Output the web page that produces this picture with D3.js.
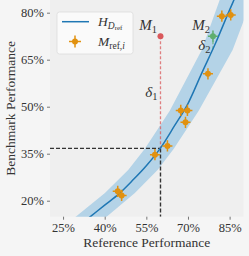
<!DOCTYPE html>
<html>
<head>
<meta charset="utf-8">
<script src="https://cdn.jsdelivr.net/npm/d3@7"></script>
<style>
  body { margin: 0; background: #f5f5f5; }
  text { font-family: "Liberation Serif", "DejaVu Serif", serif; fill: #333; }
</style>
</head>
<body>
<div id="chart"></div>
<script>
// ticks
const xTicks = [25, 40, 55, 70, 85];
const yTicks = [20, 35, 50, 65, 80];

// fitted curve H_Dref
const curveX = [26.7, 34.95, 40, 45, 50, 55, 60, 65, 70, 75, 80, 85, 86.55, 88.5];
const curveY = [9.2, 15.0, 18.6, 22.1, 26.45, 31.15, 36.7, 43.7, 51.0, 60.8, 70.4, 80.9, 84.05, 88.0];

// band edges (left/upper edge and right/lower edge)
const bandLeftX = [21.4, 29.67, 40.09, 48.54, 54.46, 63.44, 74.95, 81.41, 83.5];
const bandLeftY = [9.2, 14.99, 22.45, 29.87, 36.56, 48.67, 68.11, 84.05, 89];
const bandRightX = [32.9, 40.81, 50.87, 59.14, 64.89, 73.87, 86.08, 92.9];
const bandRightY = [9.2, 14.99, 22.45, 29.87, 36.56, 48.67, 68.11, 84.05];

// reference models M_ref,i
const refX = [44.7, 46.1, 58.1, 62.6, 67.4, 69.8, 69.1, 77.2, 82.2, 85.4];
const refY = [23.0, 21.7, 34.7, 37.5, 48.8, 48.8, 45.0, 60.5, 78.9, 79.3];
const refXErr = [1.8, 1.8, 1.8, 1.8, 1.8, 1.8, 1.8, 1.8, 1.8, 1.8];
const refYErr = [1.8, 1.8, 1.8, 1.8, 1.8, 1.8, 1.8, 1.8, 1.8, 1.8];

// the two models
const m1 = { x: 60.1, y: 72.5, h: 36.7, err: 0.8 };
const m2 = { x: 79.0, y: 72.5, h: 68.3, err: 1.8 };

const W = 249, H = 256;
const margin = { left: 50, right: 5.5, top: 0, bottom: 39.3 };
const serif = "'Liberation Serif', 'DejaVu Serif', serif";

const orange = "#e1910f";
const blue = "#1f77b4";
const red = "#d9585b";
const green = "#5fae6e";

const svg = d3.select("#chart")
  .append("svg")
  .attr("width", W)
  .attr("height", H);

svg.append("rect").attr("width", W).attr("height", H).attr("fill", "#f5f5f5");

const xScale = d3.scaleLinear().domain([20.3, 90]).range([margin.left, W - margin.right]);
const yScale = d3.scaleLinear().domain([14.9, 84.05]).range([H - margin.bottom, margin.top]);

const x0 = xScale.range()[0], x1 = xScale.range()[1];
const y0 = yScale.range()[1], y1 = yScale.range()[0];

svg.append("rect")
  .attr("x", x0).attr("y", y0)
  .attr("width", x1 - x0).attr("height", y1 - y0)
  .attr("fill", "#efefef");

svg.append("clipPath").attr("id", "clip")
  .append("rect")
  .attr("x", x0).attr("y", y0)
  .attr("width", x1 - x0).attr("height", y1 - y0);

const plot = svg.append("g").attr("clip-path", "url(#clip)");

// band
const bandPts = bandLeftX.map((d, i) => [d, bandLeftY[i]])
  .concat(bandRightX.map((d, i) => [d, bandRightY[i]]).reverse());
plot.append("path")
  .attr("d", d3.line().x(d => xScale(d[0])).y(d => yScale(d[1])).curve(d3.curveLinearClosed)(bandPts))
  .attr("fill", "#b4d3e7")
  .attr("stroke", "none");

// dashed guide lines
plot.append("line")
  .attr("x1", x0).attr("x2", xScale(m1.x))
  .attr("y1", yScale(m1.h)).attr("y2", yScale(m1.h))
  .attr("stroke", "#333").attr("stroke-width", 1.4).attr("stroke-dasharray", "4,2");
plot.append("line")
  .attr("x1", xScale(m1.x)).attr("x2", xScale(m1.x))
  .attr("y1", yScale(m1.h)).attr("y2", y1)
  .attr("stroke", "#333").attr("stroke-width", 1.4).attr("stroke-dasharray", "4,2");
plot.append("line")
  .attr("x1", xScale(m1.x)).attr("x2", xScale(m1.x))
  .attr("y1", yScale(m1.y)).attr("y2", yScale(m1.h))
  .attr("stroke", red).attr("stroke-opacity", 0.75).attr("stroke-width", 1.3).attr("stroke-dasharray", "3,2");
plot.append("line")
  .attr("x1", xScale(m2.x)).attr("x2", xScale(m2.x))
  .attr("y1", yScale(m2.y)).attr("y2", yScale(m2.h))
  .attr("stroke", green).attr("stroke-opacity", 0.75).attr("stroke-width", 1.3).attr("stroke-dasharray", "3,2");

// curve
const hLine = d3.line()
  .x(d => xScale(d[0]))
  .y(d => yScale(d[1]))
  .curve(d3.curveMonotoneX);
plot.append("path")
  .attr("d", hLine(curveX.map((d, i) => [d, curveY[i]])))
  .attr("fill", "none")
  .attr("stroke", blue)
  .attr("stroke-width", 1.5);

// points with error bars
function drawPoint(g, x, y, ex, ey, color, r) {
  g.append("line")
    .attr("x1", xScale(x - ex)).attr("x2", xScale(x + ex))
    .attr("y1", yScale(y)).attr("y2", yScale(y))
    .attr("stroke", color).attr("stroke-width", 1.5);
  g.append("line")
    .attr("x1", xScale(x)).attr("x2", xScale(x))
    .attr("y1", yScale(y - ey)).attr("y2", yScale(y + ey))
    .attr("stroke", color).attr("stroke-width", 1.5);
  g.append("circle")
    .attr("cx", xScale(x)).attr("cy", yScale(y))
    .attr("r", r).attr("fill", color);
}

refX.forEach((d, i) => drawPoint(plot, d, refY[i], refXErr[i], refYErr[i], orange, 3));
drawPoint(plot, m1.x, m1.y, m1.err, m1.err, red, 3);
drawPoint(plot, m2.x, m2.y, m2.err, m2.err, green, 3);

// annotations
function subLabel(x, y, main, sub, size) {
  const t = svg.append("text")
    .attr("x", x).attr("y", y)
    .attr("text-anchor", "end")
    .style("font-family", serif)
    .style("font-size", size + "px");
  t.append("tspan").style("font-style", "italic").text(main);
  t.append("tspan")
    .attr("dy", size * 0.22)
    .style("font-size", (size * 0.7) + "px")
    .text(sub);
  return t;
}
subLabel(157, 30, "M", "1", 15);
subLabel(210, 29.5, "M", "2", 15);
subLabel(157.5, 96.5, "δ", "1", 15);
subLabel(210.5, 50, "δ", "2", 15);

// axes
const xAxis = d3.axisBottom(xScale).tickValues(xTicks).tickSize(3).tickPadding(3).tickFormat(d => d + "%");
const yAxis = d3.axisLeft(yScale).tickValues(yTicks).tickSize(3).tickPadding(3).tickFormat(d => d + "%");

const gx = svg.append("g")
  .attr("class", "x-axis")
  .attr("transform", "translate(0," + y1 + ")")
  .call(xAxis);
const gy = svg.append("g")
  .attr("class", "y-axis")
  .attr("transform", "translate(" + x0 + ",0)")
  .call(yAxis);

[gx, gy].forEach(g => {
  g.attr("font-family", null).attr("font-size", null);
  g.select(".domain").remove();
  g.selectAll(".tick line").attr("stroke", "#555").attr("stroke-width", 0.8);
  g.selectAll(".tick text")
    .attr("fill", "#333")
    .style("font-family", serif)
    .style("font-size", "12.5px");
});

svg.append("text")
  .attr("x", (x0 + x1) / 2)
  .attr("y", 247)
  .attr("text-anchor", "middle")
  .style("font-family", serif)
  .style("font-size", "13.5px")
  .text("Reference Performance");

svg.append("text")
  .attr("transform", "translate(14.5," + ((y0 + y1) / 2) + ") rotate(-90)")
  .attr("text-anchor", "middle")
  .style("font-family", serif)
  .style("font-size", "13.5px")
  .text("Benchmark Performance");

// legend
const legend = svg.append("g");
legend.append("rect")
  .attr("x", 57).attr("y", 12)
  .attr("width", 76).attr("height", 42)
  .attr("rx", 2.5)
  .attr("fill", "#fafafa")
  .attr("stroke", "#dcdcdc")
  .attr("stroke-width", 0.8);
legend.append("line")
  .attr("x1", 62).attr("x2", 89)
  .attr("y1", 21.7).attr("y2", 21.7)
  .attr("stroke", blue).attr("stroke-width", 1.5);

legend.append("line")
  .attr("x1", 69).attr("x2", 81)
  .attr("y1", 41.5).attr("y2", 41.5)
  .attr("stroke", orange).attr("stroke-width", 1.5);
legend.append("line")
  .attr("x1", 75).attr("x2", 75)
  .attr("y1", 35.5).attr("y2", 47.5)
  .attr("stroke", orange).attr("stroke-width", 1.5);
legend.append("circle")
  .attr("cx", 75).attr("cy", 41.5).attr("r", 3).attr("fill", orange);

const lt1 = legend.append("text").attr("x", 98).attr("y", 26).style("font-family", serif).style("font-size", "13.5px");
lt1.append("tspan").style("font-style", "italic").text("H");
lt1.append("tspan").attr("dy", 2.5).style("font-size", "9.5px").style("font-style", "italic").text("D");
lt1.append("tspan").attr("dy", 1.5).style("font-size", "7px").text("ref");

const lt2 = legend.append("text").attr("x", 98).attr("y", 46).style("font-family", serif).style("font-size", "13.5px");
lt2.append("tspan").style("font-style", "italic").text("M");
lt2.append("tspan").attr("dy", 2.5).style("font-size", "9.5px").text("ref,");
lt2.append("tspan").style("font-size", "9.5px").style("font-style", "italic").text("i");
</script>
</body>
</html>
